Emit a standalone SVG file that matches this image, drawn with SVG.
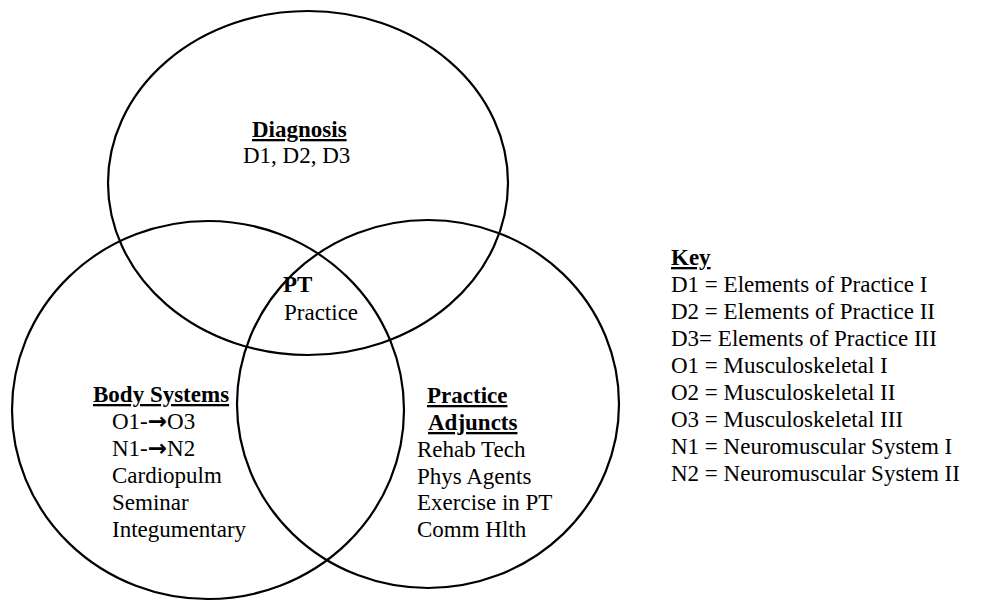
<svg xmlns="http://www.w3.org/2000/svg" width="983" height="601" viewBox="0 0 983 601">
<style>
.c{fill:none;stroke:#000;stroke-width:2.2}
text{font-family:"Liberation Serif","Times New Roman",serif;font-size:23px;fill:#000}
.b{font-weight:bold;text-decoration:underline;text-decoration-thickness:2px}
.p{font-weight:bold}
.a{font-family:"DejaVu Sans",sans-serif;font-weight:bold;font-size:23px}
</style>
<rect width="983" height="601" fill="#fff"/>
<g id="diagnosis">
<ellipse class="c" cx="308" cy="183" rx="200" ry="172"/>
<text class="b" x="252" y="137">Diagnosis</text>
<text x="243" y="163">D1, D2, D3</text>
</g>
<g id="body-systems">
<ellipse class="c" cx="208" cy="410" rx="196" ry="189"/>
<text class="b" x="93" y="402">Body Systems</text>
<text x="112" y="429">O1-<tspan class="a">→</tspan>O3</text>
<text x="112" y="456">N1-<tspan class="a">→</tspan>N2</text>
<text x="112" y="483">Cardiopulm</text>
<text x="112" y="510">Seminar</text>
<text x="112" y="537">Integumentary</text>
</g>
<g id="practice-adjuncts">
<ellipse class="c" cx="428" cy="404" rx="191" ry="184"/>
<text class="b" x="427" y="403">Practice</text>
<text class="b" x="428" y="430">Adjuncts</text>
<text x="417" y="457">Rehab Tech</text>
<text x="417" y="484">Phys Agents</text>
<text x="417" y="510">Exercise in PT</text>
<text x="417" y="537">Comm Hlth</text>
</g>
<g id="pt-practice">
<text class="p" x="283" y="292">PT</text>
<text x="284" y="320">Practice</text>
</g>
<g id="key">
<text class="b" x="671" y="265">Key</text>
<text x="671" y="292">D1 = Elements of Practice I</text>
<text x="671" y="319">D2 = Elements of Practice II</text>
<text x="671" y="346">D3= Elements of Practice III</text>
<text x="671" y="373">O1 = Musculoskeletal I</text>
<text x="671" y="400">O2 = Musculoskeletal II</text>
<text x="671" y="427">O3 = Musculoskeletal III</text>
<text x="671" y="454">N1 = Neuromuscular System I</text>
<text x="671" y="481">N2 = Neuromuscular System II</text>
</g>
<g id="connectors"></g>
</svg>
